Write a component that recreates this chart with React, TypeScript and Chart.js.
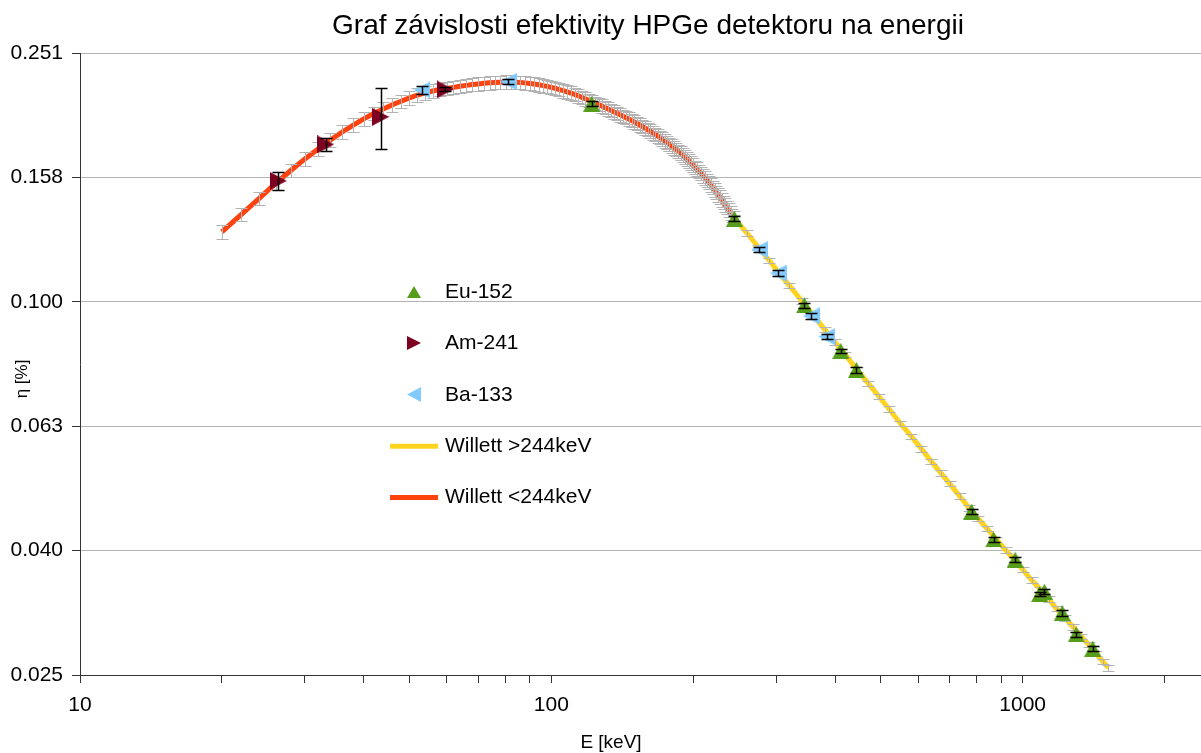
import React, { useEffect, useRef } from 'react';
import { Chart, registerables } from 'chart.js';

Chart.register(...registerables);

const TITLE = 'Graf závislosti efektivity HPGe detektoru na energii';
const X_TITLE = 'E [keV]';
const Y_TITLE = 'η [%]';
const FONT = '"Liberation Sans", Arial, sans-serif';
const W = 1201;
const H = 753;

// axes
const X_MIN = 10;
const X_MAX = 2390;
const xTickValues = [10, 20, 30, 40, 50, 60, 70, 80, 90, 100, 200, 300, 400, 500, 600, 700, 800, 900, 1000, 2000];
const xTickLabels = ['10', '', '', '', '', '', '', '', '', '100', '', '', '', '', '', '', '', '', '1000', ''];
const yTickValues = [0.025119, 0.039811, 0.063096, 0.1, 0.158489, 0.251189];
const yTickLabels = ['0.025', '0.040', '0.063', '0.100', '0.158', '0.251'];

// measured points
const euE = [121.78, 244.7, 344.28, 411.12, 443.96, 778.9, 867.38, 964.08, 1085.84, 1112.08, 1212.95, 1299.14, 1408.01];
const euEta = [0.2082, 0.136, 0.0987, 0.0834, 0.0777, 0.046, 0.0415, 0.0385, 0.0339, 0.0342, 0.0316, 0.0292, 0.0277];
const euErr = [0.0018, 0.00126, 0.0008, 0.00071, 0.00082, 0.00043, 0.00038, 0.00036, 0.00031, 0.00032, 0.00031, 0.00027, 0.00023];

const amE = [26.34, 33.2, 43.42, 59.54];
const amEta = [0.1565, 0.1791, 0.1983, 0.2195];
const amErr = [0.0053, 0.0046, 0.0221, 0.0016];

const baE = [53.16, 81.0, 276.4, 302.85, 356.01, 383.85];
const baEta = [0.2191, 0.2259, 0.1213, 0.1112, 0.0949, 0.0879];
const baErr = [0.0035, 0.0022, 0.00126, 0.00117, 0.00095, 0.00091];

// Willett fit < 244 keV
const fitLowE = [
  20, 22, 24, 26, 28, 30, 32, 34, 36, 38,
  40, 42, 44, 46, 48, 50, 52, 54, 56, 58,
  60, 62, 64, 66, 68, 70, 72, 74, 76, 78,
  80, 82, 84, 86, 88, 90, 92, 94, 96, 98,
  100, 102, 104, 106, 108, 110, 112, 114, 116, 118,
  120, 122, 124, 126, 128, 130, 132, 134, 136, 138,
  140, 142, 144, 146, 148, 150, 152, 154, 156, 158,
  160, 162, 164, 166, 168, 170, 172, 174, 176, 178,
  180, 182, 184, 186, 188, 190, 192, 194, 196, 198,
  200, 202, 204, 206, 208, 210, 212, 214, 216, 218,
  220, 222, 224, 226, 228, 230, 232, 234, 236, 238,
  240, 242, 244,
];
const fitLowEta = [
  0.1295, 0.1382, 0.1466, 0.155, 0.1626, 0.1697, 0.1761, 0.182, 0.1875, 0.1924,
  0.1968, 0.2008, 0.2042, 0.2074, 0.2101, 0.2127, 0.215, 0.2168, 0.2182, 0.2194,
  0.2203, 0.2212, 0.2221, 0.2228, 0.2235, 0.224, 0.2245, 0.225, 0.2253, 0.2255,
  0.2256, 0.2256, 0.2255, 0.2252, 0.2249, 0.2244, 0.2239, 0.2233, 0.2226, 0.222,
  0.2212, 0.2203, 0.2194, 0.2185, 0.2176, 0.2166, 0.2155, 0.2144, 0.2132, 0.212,
  0.2108, 0.2097, 0.2086, 0.2075, 0.2064, 0.2052, 0.2042, 0.2031, 0.2019, 0.2009,
  0.1998, 0.1987, 0.1977, 0.1967, 0.1957, 0.1946, 0.1935, 0.1924, 0.1914, 0.1903,
  0.1892, 0.1881, 0.187, 0.1859, 0.1848, 0.1837, 0.1826, 0.1814, 0.1803, 0.1792,
  0.178, 0.1769, 0.1757, 0.1745, 0.1734, 0.1722, 0.1709, 0.1697, 0.1684, 0.1672,
  0.1659, 0.1646, 0.1634, 0.162, 0.1608, 0.1594, 0.1581, 0.1568, 0.1555, 0.1541,
  0.1528, 0.1514, 0.15, 0.1486, 0.1473, 0.1459, 0.1445, 0.1431, 0.1418, 0.1404,
  0.139, 0.1377, 0.1364,
];
const fitLowErr = [
  0.0032, 0.0035, 0.0037, 0.0039, 0.0041, 0.0042, 0.0044, 0.0046, 0.0047, 0.0048,
  0.0049, 0.005, 0.0051, 0.0052, 0.0053, 0.0053, 0.0054, 0.0054, 0.0055, 0.0055,
  0.0055, 0.0055, 0.0056, 0.0056, 0.0056, 0.0056, 0.0056, 0.0056, 0.0056, 0.0056,
  0.0056, 0.0056, 0.0056, 0.0056, 0.0056, 0.0056, 0.0056, 0.0056, 0.0056, 0.0055,
  0.0055, 0.0055, 0.0055, 0.0055, 0.0054, 0.0054, 0.0054, 0.0054, 0.0053, 0.0053,
  0.0053, 0.0052, 0.0052, 0.0052, 0.0052, 0.0051, 0.0051, 0.0051, 0.005, 0.005,
  0.005, 0.005, 0.0049, 0.0049, 0.0049, 0.0049, 0.0048, 0.0048, 0.0048, 0.0048,
  0.0047, 0.0047, 0.0047, 0.0046, 0.0046, 0.0046, 0.0046, 0.0045, 0.0045, 0.0045,
  0.0045, 0.0044, 0.0044, 0.0044, 0.0043, 0.0043, 0.0043, 0.0042, 0.0042, 0.0042,
  0.0041, 0.0041, 0.0041, 0.0041, 0.004, 0.004, 0.004, 0.0039, 0.0039, 0.0039,
  0.0038, 0.0038, 0.0038, 0.0037, 0.0037, 0.0036, 0.0036, 0.0036, 0.0035, 0.0035,
  0.0035, 0.0034, 0.0034,
];

// Willett fit > 244 keV
const fitHighE = [
  244, 260, 275, 290, 305, 320, 340, 360, 380, 400,
  420, 445, 470, 495, 520, 550, 580, 610, 640, 670,
  700, 735, 770, 805, 840, 880, 920, 960, 1000, 1045,
  1090, 1135, 1180, 1230, 1280, 1330, 1380, 1430, 1480, 1520,
];
const fitHighEta = [
  0.1365, 0.129, 0.1224, 0.1165, 0.111, 0.1062, 0.1003, 0.0951, 0.0903, 0.0861,
  0.0823, 0.0778, 0.074, 0.0705, 0.0673, 0.0638, 0.0608, 0.058, 0.0554, 0.0531,
  0.051, 0.0487, 0.0466, 0.0448, 0.0432, 0.0415, 0.0399, 0.0385, 0.0371, 0.0357,
  0.0345, 0.0333, 0.0321, 0.031, 0.03, 0.029, 0.0281, 0.0272, 0.0264, 0.0258,
];
const fitHighErr = [
  0.0014, 0.0013, 0.0012, 0.0012, 0.0011, 0.0011, 0.001, 0.001, 0.0009, 0.0009,
  0.0008, 0.0008, 0.0007, 0.0007, 0.0007, 0.0006, 0.0006, 0.0006, 0.00055, 0.00053,
  0.00051, 0.00049, 0.00047, 0.00045, 0.00043, 0.00042, 0.0004, 0.00039, 0.00037, 0.00036,
  0.00035, 0.00033, 0.00032, 0.00031, 0.0003, 0.00029, 0.00028, 0.00027, 0.00026, 0.00026,
];

const COLORS = {
  eu: '#579d1c',
  am: '#7e0021',
  ba: '#83caff',
  high: '#ffd320',
  low: '#ff420e',
  grid: '#b3b3b3',
  axis: '#333333',
  errFit: '#b3b3b3',
  errData: '#000000',
};

if (typeof document !== 'undefined') {
  document.body.style.margin = '0';
  document.body.style.overflow = 'hidden';
}

function makeTriangle(dir: string, w: number, h: number, color: string) {
  const c = document.createElement('canvas');
  c.width = w;
  c.height = h;
  const ctx = c.getContext('2d')!;
  ctx.fillStyle = color;
  ctx.beginPath();
  if (dir === 'up') {
    ctx.moveTo(w / 2, 0);
    ctx.lineTo(w, h);
    ctx.lineTo(0, h);
  } else if (dir === 'right') {
    ctx.moveTo(0, 0);
    ctx.lineTo(w, h / 2);
    ctx.lineTo(0, h);
  } else {
    ctx.moveTo(w, 0);
    ctx.lineTo(0, h / 2);
    ctx.lineTo(w, h);
  }
  ctx.closePath();
  ctx.fill();
  return c;
}

const toPoints = (xs: number[], ys: number[]) => xs.map((x, i) => ({ x, y: ys[i] }));

const errorBarPlugin = {
  id: 'errorBars',
  afterDatasetDraw(chart: any, args: any) {
    const ds = chart.data.datasets[args.index];
    if (!ds.errors) return;
    const xs = chart.scales.x;
    const ys = chart.scales.y;
    const ctx = chart.ctx;
    ctx.save();
    ctx.strokeStyle = ds.errorColor;
    ctx.lineWidth = ds.errorWidth || 1;
    ds.data.forEach((p: any, i: number) => {
      const e = ds.errors[i];
      const px = Math.round(xs.getPixelForValue(p.x)) + 0.5;
      const yt = Math.round(ys.getPixelForValue(p.y + e)) + 0.5;
      const yb = Math.round(ys.getPixelForValue(p.y - e)) + 0.5;
      ctx.beginPath();
      ctx.moveTo(px, yt);
      ctx.lineTo(px, yb);
      ctx.moveTo(px - 6, yt);
      ctx.lineTo(px + 6, yt);
      ctx.moveTo(px - 6, yb);
      ctx.lineTo(px + 6, yb);
      ctx.stroke();
    });
    ctx.restore();
  },
};

const textPlugin = {
  id: 'texts',
  afterDraw(chart: any) {
    const ctx = chart.ctx;
    ctx.save();
    ctx.fillStyle = '#000';
    ctx.textAlign = 'center';
    ctx.textBaseline = 'middle';
    ctx.font = `28px ${FONT}`;
    ctx.fillText(TITLE, 648, 26);
    ctx.font = `19px ${FONT}`;
    ctx.fillText(X_TITLE, 611, 743);
    ctx.translate(22, 379);
    ctx.rotate(-Math.PI / 2);
    ctx.font = `17px ${FONT}`;
    ctx.fillText(Y_TITLE, 0, 0);
    ctx.restore();

    // legend inside plot
    ctx.save();
    ctx.font = `21px ${FONT}`;
    ctx.textAlign = 'left';
    ctx.textBaseline = 'middle';
    chart.data.datasets.forEach((ds: any, i: number) => {
      const y = 292 + i * 51.4;
      if (ds.legendImg) {
        const img = ds.legendImg;
        ctx.drawImage(img, Math.round(414 - img.width / 2), Math.round(y - img.height / 2));
      } else {
        ctx.strokeStyle = ds.borderColor;
        ctx.lineWidth = 5;
        ctx.beginPath();
        ctx.moveTo(390, y);
        ctx.lineTo(438, y);
        ctx.stroke();
      }
      ctx.fillStyle = '#000';
      ctx.fillText(ds.label, 445, y);
    });
    ctx.restore();
  },
};

export default function App() {
  const ref = useRef<HTMLCanvasElement | null>(null);

  useEffect(() => {
    const canvas = ref.current;
    if (!canvas) return;

    const euImg = makeTriangle('up', 17, 16, COLORS.eu);
    const amImg = makeTriangle('right', 17, 18, COLORS.am);
    const baImg = makeTriangle('left', 17, 17, COLORS.ba);
    const euLeg = makeTriangle('up', 14, 12, COLORS.eu);
    const amLeg = makeTriangle('right', 14, 14, COLORS.am);
    const baLeg = makeTriangle('left', 14, 15, COLORS.ba);

    const chart = new Chart(canvas, {
      type: 'scatter',
      data: {
        datasets: [
          {
            label: 'Eu-152',
            data: toPoints(euE, euEta),
            pointStyle: euImg,
            pointRadius: 8,
            showLine: false,
            order: 3,
            errors: euErr,
            errorColor: COLORS.errData,
            errorWidth: 1.5,
            legendImg: euLeg,
          },
          {
            label: 'Am-241',
            data: toPoints(amE, amEta),
            pointStyle: amImg,
            pointRadius: 8,
            showLine: false,
            order: 2,
            errors: amErr,
            errorColor: COLORS.errData,
            errorWidth: 1.5,
            legendImg: amLeg,
          },
          {
            label: 'Ba-133',
            data: toPoints(baE, baEta),
            pointStyle: baImg,
            pointRadius: 8,
            showLine: false,
            order: 1,
            errors: baErr,
            errorColor: COLORS.errData,
            errorWidth: 1.5,
            legendImg: baLeg,
          },
          {
            label: 'Willett >244keV',
            data: toPoints(fitHighE, fitHighEta),
            showLine: true,
            borderColor: COLORS.high,
            borderWidth: 5,
            pointRadius: 0,
            tension: 0,
            order: 10,
            errors: fitHighErr,
            errorColor: COLORS.errFit,
          },
          {
            label: 'Willett <244keV',
            data: toPoints(fitLowE, fitLowEta),
            showLine: true,
            borderColor: COLORS.low,
            borderWidth: 5,
            pointRadius: 0,
            tension: 0,
            order: 11,
            errors: fitLowErr,
            errorColor: COLORS.errFit,
          },
        ] as any,
      },
      options: {
        responsive: false,
        maintainAspectRatio: false,
        animation: false,
        devicePixelRatio: 1,
        layout: { autoPadding: false, padding: { top: 53, left: 0, right: 0, bottom: 0 } },
        plugins: {
          legend: { display: false },
          title: { display: false },
          tooltip: { enabled: false },
        },
        scales: {
          x: {
            type: 'logarithmic',
            position: 'bottom',
            min: X_MIN,
            max: X_MAX,
            afterBuildTicks: (s: any) => {
              s.ticks = xTickValues.map((v) => ({ value: v }));
            },
            afterFit: (s: any) => {
              s.height = 78;
              s.paddingLeft = 0;
              s.paddingRight = 0;
            },
            ticks: {
              autoSkip: false,
              maxRotation: 0,
              minRotation: 0,
              padding: 10,
              color: '#000',
              font: { family: FONT, size: 21 },
              callback: (_v: any, i: number) => xTickLabels[i],
            },
            grid: {
              drawOnChartArea: false,
              drawTicks: true,
              tickLength: 8,
              color: COLORS.axis,
              tickColor: COLORS.axis,
            },
            border: { display: true, color: COLORS.axis, width: 1 },
          },
          y: {
            type: 'logarithmic',
            position: 'left',
            min: yTickValues[0],
            max: yTickValues[yTickValues.length - 1],
            afterBuildTicks: (s: any) => {
              s.ticks = yTickValues.map((v) => ({ value: v }));
            },
            afterFit: (s: any) => {
              s.width = 80;
              s.paddingTop = 0;
              s.paddingBottom = 0;
            },
            ticks: {
              autoSkip: false,
              padding: 9,
              color: '#000',
              font: { family: FONT, size: 21 },
              callback: (_v: any, i: number) => yTickLabels[i],
            },
            grid: {
              drawOnChartArea: true,
              drawTicks: true,
              tickLength: 8,
              color: COLORS.grid,
              tickColor: COLORS.axis,
            },
            border: { display: true, color: COLORS.axis, width: 1 },
          },
        },
      } as any,
      plugins: [errorBarPlugin, textPlugin],
    });

    return () => chart.destroy();
  }, []);

  return (
    <div style={{ width: W, height: H, overflow: 'hidden' }}>
      <canvas
        ref={ref}
        width={W}
        height={H}
        style={{ display: 'block', width: `${W}px`, height: `${H}px` }}
      />
    </div>
  );
}
